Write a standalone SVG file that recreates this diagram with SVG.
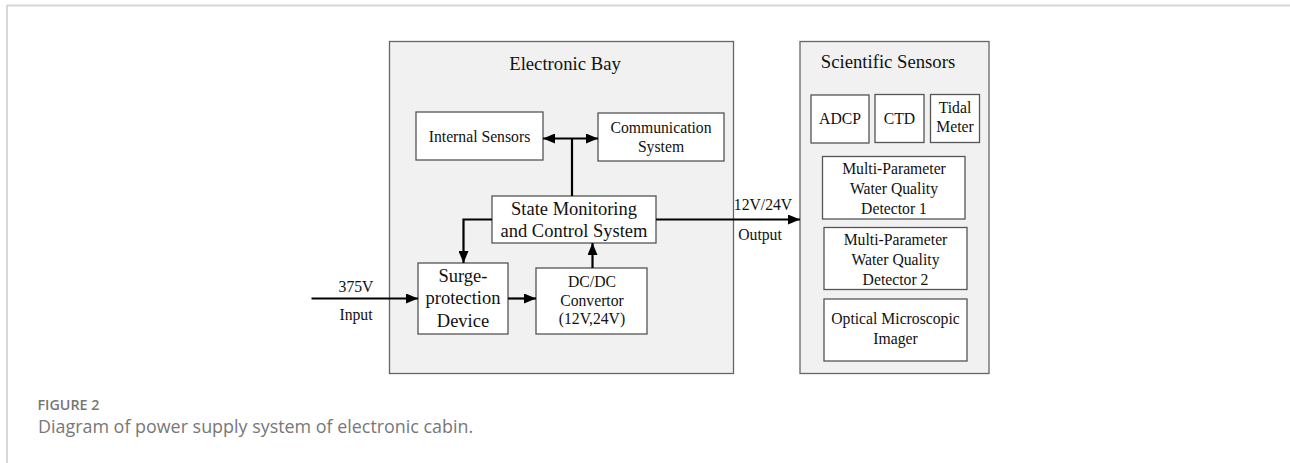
<svg xmlns="http://www.w3.org/2000/svg" width="1290" height="463" viewBox="0 0 1290 463">
<defs>
<marker id="ah" viewBox="0 0 12 10" refX="12" refY="5" markerWidth="12" markerHeight="10" markerUnits="userSpaceOnUse" orient="auto-start-reverse">
<path d="M0,0 L12,5 L0,10 Z" fill="#000"/>
</marker>
</defs>
<style>
.bay{fill:#f1f1f1;stroke:#666;stroke-width:1.3}
.box{fill:#fff;stroke:#555;stroke-width:1.3}
.t{font-family:"Liberation Serif","Times New Roman",serif;fill:#111;text-anchor:middle}
.big{font-size:18.7px}
.mid{font-size:18.5px}
.sm{font-size:15.7px}
.ln{stroke:#000;stroke-width:2.2;fill:none}
.cap{font-family:"Open Sans","Noto Sans",sans-serif;fill:#777}
</style>
<rect x="0" y="0" width="1290" height="463" fill="#fff"/>
<g id="frame">
<line x1="7" y1="5.5" x2="1290" y2="5.5" stroke="#d6d6d6" stroke-width="2"/>
<line x1="7" y1="5" x2="7" y2="463" stroke="#cccccc" stroke-width="1.5"/>
</g>
<g id="electronic-bay">
<rect class="bay" x="389.5" y="41.5" width="344" height="332"/>
<text class="t big" x="565" y="70">Electronic Bay</text>
</g>
<g id="scientific-sensors">
<rect class="bay" x="800" y="41.5" width="189" height="332"/>
<text class="t big" x="888" y="68">Scientific Sensors</text>
</g>
<g id="internal-sensors">
<rect class="box" x="416" y="112" width="127" height="48"/>
<text class="t sm" x="479.5" y="142">Internal Sensors</text>
</g>
<g id="communication-system">
<rect class="box" x="598" y="113" width="126" height="48"/>
<text class="t sm" x="661" y="133">Communication</text>
<text class="t sm" x="661" y="152">System</text>
</g>
<g id="state-monitoring">
<rect class="box" x="492" y="196" width="164" height="47"/>
<text class="t mid" x="574" y="215">State Monitoring</text>
<text class="t mid" x="574" y="237">and Control System</text>
</g>
<g id="surge-protection">
<rect class="box" x="418" y="263" width="90" height="71"/>
<text class="t mid" x="463" y="282">Surge-</text>
<text class="t mid" x="463" y="304">protection</text>
<text class="t mid" x="463" y="327">Device</text>
</g>
<g id="dcdc-convertor">
<rect class="box" x="536" y="268" width="111" height="66"/>
<text class="t sm" x="592" y="287">DC/DC</text>
<text class="t sm" x="592" y="306">Convertor</text>
<text class="t sm" x="592" y="324">(12V,24V)</text>
</g>
<g id="adcp">
<rect class="box" x="811" y="95" width="58" height="48"/>
<text class="t sm" x="840" y="124">ADCP</text>
</g>
<g id="ctd">
<rect class="box" x="875" y="94.5" width="49" height="48"/>
<text class="t sm" x="899.5" y="124">CTD</text>
</g>
<g id="tidal-meter">
<rect class="box" x="930.5" y="94.5" width="49" height="48"/>
<text class="t sm" x="955" y="113">Tidal</text>
<text class="t sm" x="955" y="132">Meter</text>
</g>
<g id="mpwqd1">
<rect class="box" x="822.5" y="156.5" width="142.5" height="62.5"/>
<text class="t sm" x="894" y="173.5">Multi-Parameter</text>
<text class="t sm" x="894" y="194">Water Quality</text>
<text class="t sm" x="894" y="213.5">Detector 1</text>
</g>
<g id="mpwqd2">
<rect class="box" x="824" y="227.5" width="143" height="62"/>
<text class="t sm" x="895.5" y="245">Multi-Parameter</text>
<text class="t sm" x="895.5" y="265">Water Quality</text>
<text class="t sm" x="895.5" y="285">Detector 2</text>
</g>
<g id="optical-imager">
<rect class="box" x="824" y="299" width="143" height="62"/>
<text class="t sm" x="895.5" y="323.5">Optical Microscopic</text>
<text class="t sm" x="895.5" y="343.5">Imager</text>
</g>
<g id="connectors">
<line class="ln" x1="543" y1="138.5" x2="598" y2="138.5" marker-start="url(#ah)" marker-end="url(#ah)"/>
<line class="ln" x1="572" y1="138.5" x2="572" y2="196"/>
<polyline class="ln" points="492,219.5 463.5,219.5 463.5,263" marker-end="url(#ah)"/>
<line class="ln" x1="592.5" y1="268" x2="592.5" y2="243" marker-end="url(#ah)"/>
<line class="ln" x1="311.5" y1="298.5" x2="418" y2="298.5" marker-end="url(#ah)"/>
<line class="ln" x1="508" y1="298.5" x2="536" y2="298.5" marker-end="url(#ah)"/>
<line class="ln" x1="656" y1="219.5" x2="800" y2="219.5" marker-end="url(#ah)"/>
<text class="t sm" x="356" y="291.5">375V</text>
<text class="t sm" x="356" y="320">Input</text>
<text class="t sm" x="763" y="209.5">12V/24V</text>
<text class="t sm" x="760" y="240">Output</text>
</g>
<g id="caption">
<text class="cap" x="37.5" y="410" font-size="14.3" font-weight="600" fill="#6b6b6b">FIGURE 2</text>
<text class="cap" x="38" y="433" font-size="17.9">Diagram of power supply system of electronic cabin.</text>
</g>
</svg>
